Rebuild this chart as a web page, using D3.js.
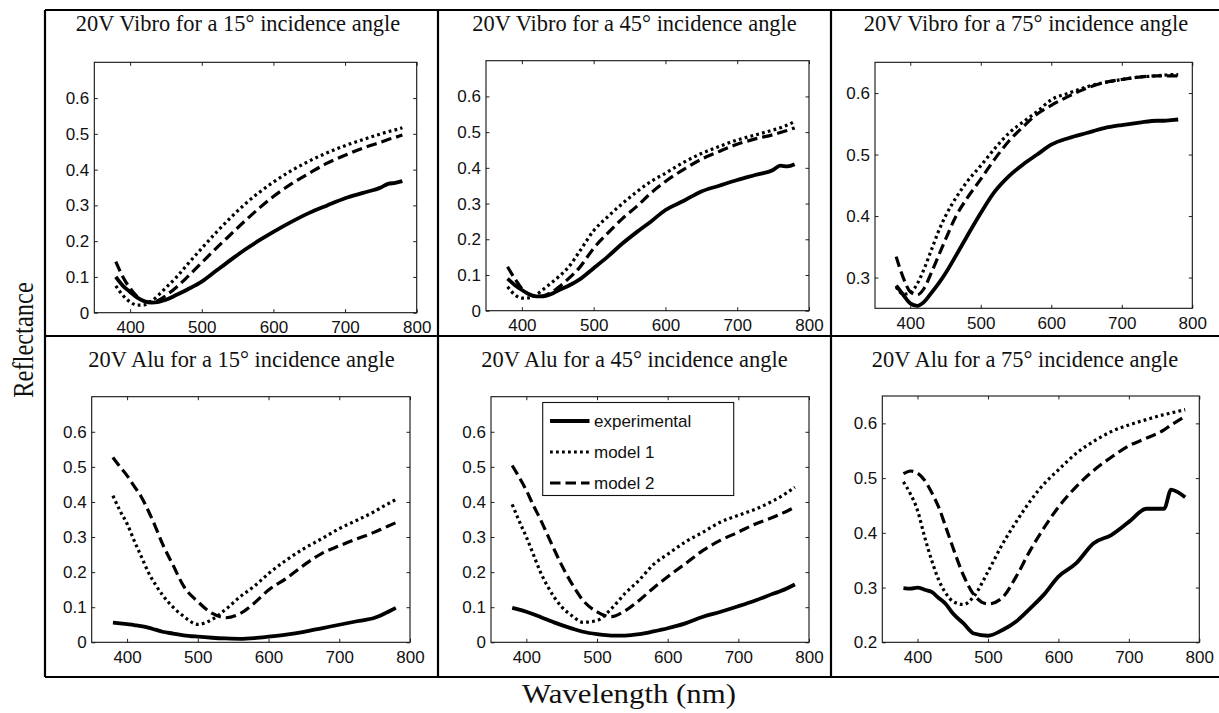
<!DOCTYPE html>
<html>
<head>
<meta charset="utf-8">
<script src="https://cdn.jsdelivr.net/npm/d3@7"></script>
<style>
html,body{margin:0;padding:0;background:#fff;}
svg{display:block;}
</style>
</head>
<body>
<script>
// ---------------- DATA ----------------
const wavelengths = [380,390,400,410,420,430,440,450,465,480,500,520,540,560,580,600,625,650,675,700,725,750,760,770,780];

const xTicks = [400,500,600,700,800];
const yTicksLow = [0,0.1,0.2,0.3,0.4,0.5,0.6];
const yTicksV75 = [0.3,0.4,0.5,0.6];
const yTicksA75 = [0.2,0.3,0.4,0.5,0.6];

const panelTitles = [
  "20V Vibro for a 15° incidence angle",
  "20V Vibro for a 45° incidence angle",
  "20V Vibro for a 75° incidence angle",
  "20V Alu for a 15° incidence angle",
  "20V Alu for a 45° incidence angle",
  "20V Alu for a 75° incidence angle"
];
const seriesNames = ["experimental","model 1","model 2"];

// Vibro 15°
const vibro15Exp = [0.100,0.075,0.058,0.042,0.032,0.028,0.030,0.036,0.050,0.065,0.087,0.117,0.147,0.176,0.202,0.226,0.254,0.279,0.300,0.320,0.335,0.350,0.360,0.363,0.368];
const vibro15M1  = [0.075,0.048,0.030,0.021,0.022,0.033,0.050,0.070,0.100,0.135,0.180,0.224,0.265,0.303,0.336,0.365,0.397,0.424,0.447,0.467,0.484,0.500,0.506,0.511,0.517];
const vibro15M2  = [0.143,0.100,0.068,0.045,0.032,0.030,0.035,0.048,0.072,0.100,0.140,0.180,0.218,0.256,0.292,0.325,0.360,0.390,0.418,0.440,0.460,0.477,0.484,0.490,0.497];
// Vibro 45°
const vibro45Exp = [0.090,0.072,0.058,0.046,0.040,0.040,0.046,0.056,0.070,0.087,0.119,0.152,0.188,0.220,0.250,0.282,0.307,0.334,0.350,0.366,0.380,0.394,0.406,0.404,0.410];
const vibro45M1  = [0.067,0.045,0.035,0.036,0.045,0.060,0.076,0.093,0.122,0.165,0.224,0.264,0.300,0.333,0.362,0.385,0.415,0.440,0.460,0.478,0.492,0.506,0.512,0.520,0.530];
const vibro45M2  = [0.123,0.090,0.062,0.046,0.040,0.042,0.050,0.064,0.090,0.120,0.175,0.218,0.258,0.292,0.330,0.362,0.395,0.424,0.446,0.466,0.481,0.493,0.499,0.505,0.512];
// Vibro 75°
const vibro75Exp = [0.287,0.272,0.258,0.254,0.261,0.275,0.290,0.307,0.336,0.366,0.405,0.440,0.465,0.484,0.500,0.516,0.527,0.535,0.543,0.548,0.552,0.555,0.555,0.556,0.557];
const vibro75M1  = [0.285,0.273,0.275,0.290,0.315,0.345,0.375,0.400,0.430,0.455,0.482,0.510,0.535,0.553,0.570,0.589,0.600,0.610,0.617,0.622,0.626,0.628,0.629,0.630,0.630];
const vibro75M2  = [0.334,0.300,0.277,0.272,0.283,0.308,0.335,0.362,0.400,0.428,0.460,0.493,0.522,0.545,0.566,0.580,0.595,0.608,0.617,0.622,0.626,0.628,0.628,0.628,0.628];
// Alu 15°
const alu15Exp = [0.056,0.054,0.052,0.049,0.046,0.042,0.036,0.030,0.025,0.020,0.016,0.013,0.011,0.010,0.012,0.016,0.022,0.030,0.040,0.050,0.060,0.070,0.078,0.088,0.098];
const alu15M1  = [0.418,0.375,0.338,0.290,0.245,0.200,0.165,0.135,0.100,0.074,0.051,0.065,0.095,0.130,0.160,0.196,0.234,0.267,0.295,0.324,0.348,0.373,0.385,0.396,0.407];
const alu15M2  = [0.527,0.500,0.475,0.445,0.415,0.375,0.330,0.281,0.220,0.160,0.116,0.083,0.070,0.082,0.112,0.149,0.182,0.220,0.253,0.275,0.295,0.314,0.323,0.332,0.341];
// Alu 45°
const alu45Exp = [0.098,0.093,0.087,0.080,0.072,0.064,0.056,0.049,0.039,0.030,0.023,0.019,0.019,0.023,0.031,0.040,0.054,0.073,0.087,0.103,0.120,0.139,0.146,0.155,0.165];
const alu45M1  = [0.393,0.345,0.300,0.250,0.200,0.160,0.127,0.101,0.075,0.057,0.062,0.095,0.140,0.178,0.222,0.251,0.286,0.314,0.343,0.362,0.380,0.404,0.415,0.428,0.442];
const alu45M2  = [0.504,0.470,0.433,0.390,0.350,0.306,0.262,0.220,0.165,0.120,0.087,0.073,0.090,0.120,0.155,0.187,0.224,0.262,0.291,0.314,0.338,0.357,0.366,0.375,0.385];
// Alu 75°
const alu75Exp = [0.299,0.298,0.300,0.296,0.292,0.281,0.270,0.253,0.235,0.216,0.212,0.222,0.238,0.262,0.288,0.320,0.344,0.381,0.396,0.420,0.444,0.444,0.479,0.474,0.465];
const alu75M1  = [0.493,0.471,0.441,0.393,0.350,0.314,0.290,0.275,0.269,0.284,0.329,0.378,0.420,0.458,0.490,0.515,0.545,0.567,0.585,0.597,0.607,0.616,0.619,0.622,0.625];
const alu75M2  = [0.508,0.513,0.509,0.496,0.474,0.447,0.411,0.374,0.323,0.287,0.270,0.281,0.320,0.368,0.410,0.447,0.484,0.514,0.538,0.559,0.573,0.588,0.597,0.605,0.613];

const panelSeries = [
  [vibro15Exp, vibro15M1, vibro15M2],
  [vibro45Exp, vibro45M1, vibro45M2],
  [vibro75Exp, vibro75M1, vibro75M2],
  [alu15Exp, alu15M1, alu15M2],
  [alu45Exp, alu45M1, alu45M2],
  [alu75Exp, alu75M1, alu75M2]
];
const yDomains = [[0,0.7],[0,0.7],[0.25,0.65],[0,0.7],[0,0.7],[0.2,0.65]];
const yTickSets = [yTicksLow, yTicksLow, yTicksV75, yTicksLow, yTicksLow, yTicksA75];
const xDomain = [350,800];

// ---------------- LAYOUT ----------------
const W = 1219, H = 713;
const boxes = [
  {x0:94.3, x1:416.7, y0:62.3, y1:312.7},
  {x0:486,  x1:809,   y0:60.7, y1:310.7},
  {x0:875,  x1:1192.3,y0:62.3, y1:308.3},
  {x0:91.7, x1:410,   y0:396.7,y1:642.3},
  {x0:491,  x1:809,   y0:396.7,y1:642.3},
  {x0:882.3,x1:1199.3,y0:396,  y1:642.3}
];
const cells = [
  {cx:238, ty:31}, {cx:634.5, ty:31}, {cx:1026, ty:31},
  {cx:241.5, ty:367},{cx:634.5, ty:367},{cx:1025, ty:367}
];
const styles = [
  {w:3.8, dash:null},
  {w:3.2, dash:"2.8,3.2"},
  {w:3.2, dash:"10.5,5"}
];

const svg = d3.select("body").append("svg").attr("width",W).attr("height",H);
svg.append("rect").attr("width",W).attr("height",H).attr("fill","#fff");

// Outer grid frame
const frame = svg.append("g").attr("stroke","#000").attr("stroke-width",2.2);
[[45,10,1219,10],[45,336,1219,336],[45,677,1219,677],[45,10,45,677],[438,10,438,677],[831,10,831,677]]
  .forEach(l=>frame.append("line").attr("x1",l[0]).attr("y1",l[1]).attr("x2",l[2]).attr("y2",l[3]));

const serif = "'Liberation Serif','Times New Roman',serif";
const sans = "'Liberation Sans',Arial,sans-serif";

boxes.forEach((b,i)=>{
  const x = d3.scaleLinear().domain(xDomain).range([b.x0,b.x1]);
  const y = d3.scaleLinear().domain(yDomains[i]).range([b.y1,b.y0]);
  const g = svg.append("g");

  // title
  svg.append("text").attr("transform",`translate(${cells[i].cx},${cells[i].ty}) scale(1.02,1.04)`)
    .attr("text-anchor","middle").attr("font-family",serif).attr("font-size",22)
    .attr("fill","#111").text(panelTitles[i]);

  // axes with inward ticks
  const tl = 3.5;
  const xb = g.append("g").attr("transform",`translate(0,${b.y1})`)
    .call(d3.axisBottom(x).tickValues(xTicks).tickSize(-tl).tickPadding(5).tickFormat(d3.format("d")));
  const xt = g.append("g").attr("transform",`translate(0,${b.y0})`)
    .call(d3.axisTop(x).tickValues(xTicks).tickSize(-tl).tickFormat(""));
  const yl = g.append("g").attr("transform",`translate(${b.x0},0)`)
    .call(d3.axisLeft(y).tickValues(yTickSets[i]).tickSize(-tl).tickPadding(5).tickFormat(d=>d===0?"0":d3.format(".1f")(d)));
  const yr = g.append("g").attr("transform",`translate(${b.x1},0)`)
    .call(d3.axisRight(y).tickValues(yTickSets[i]).tickSize(-tl).tickFormat(""));
  [xb,xt,yl,yr].forEach(a=>{
    a.select(".domain").remove();
    a.selectAll(".tick line").attr("stroke","#222").attr("stroke-width",1);
    a.selectAll("text").attr("font-family",sans).attr("font-size",17).attr("fill","#111");
  });
  xb.selectAll("text").attr("dy","0.9em");

  g.append("rect").attr("x",b.x0).attr("y",b.y0).attr("width",b.x1-b.x0).attr("height",b.y1-b.y0)
    .attr("fill","none").attr("stroke","#111").attr("stroke-width",1.1);

  const line = d3.line().x(d=>x(d[0])).y(d=>y(d[1])).curve(d3.curveMonotoneX);
  panelSeries[i].forEach((vals,k)=>{
    const pts = wavelengths.map((w,j)=>[w,vals[j]]);
    g.append("path").attr("d",line(pts)).attr("fill","none").attr("stroke","#000")
      .attr("stroke-width",styles[k].w).attr("stroke-dasharray",styles[k].dash)
      .attr("stroke-linejoin","round");
  });

  // legend in Alu 45 panel
  if(i===4){
    const lg = svg.append("g");
    lg.append("rect").attr("x",542.7).attr("y",402.5).attr("width",191).attr("height",93)
      .attr("fill","#fff").attr("stroke","#111").attr("stroke-width",1.1);
    seriesNames.forEach((n,k)=>{
      const yy = 421 + k*31;
      lg.append("line").attr("x1",550).attr("x2",589.5).attr("y1",yy).attr("y2",yy)
        .attr("stroke","#000").attr("stroke-width",styles[k].w).attr("stroke-dasharray",styles[k].dash);
      lg.append("text").attr("x",594).attr("y",yy).attr("dy","0.36em")
        .attr("font-family",sans).attr("font-size",17).attr("fill","#111").text(n);
    });
  }
});

// Axis labels
svg.append("text").attr("transform","translate(33,340) rotate(-90) scale(1,1.22)")
  .attr("text-anchor","middle").attr("font-family",serif).attr("font-size",24.5).attr("fill","#111")
  .text("Reflectance");
svg.append("text").attr("transform","translate(629,703) scale(1.1,1)").attr("text-anchor","middle")
  .attr("font-family",serif).attr("font-size",28).attr("fill","#111").text("Wavelength (nm)");
</script>
</body>
</html>
